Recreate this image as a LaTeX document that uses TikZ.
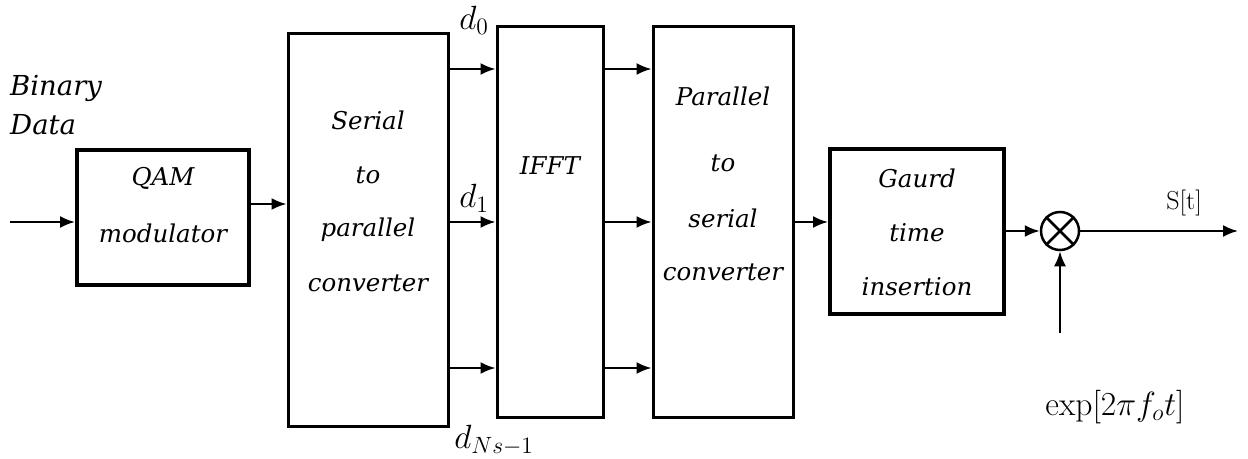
\RequirePackage{fix-cm}
\documentclass[tikz,border=0pt]{standalone}
\usepackage{fontspec}
\usetikzlibrary{arrows.meta}
\newfontfamily\lblfont{DejaVu Serif}
\begin{document}
\begin{tikzpicture}[x=1pt,y=-1pt,
  blk/.style={draw,line width=3pt,minimum width=#1,inner sep=0pt},
  txt/.style={font=\lblfont\itshape\fontsize{24.5}{28}\selectfont,inner sep=0pt},
  mth/.style={font=\fontsize{24}{28}\selectfont,inner sep=0pt,scale=1.4},
  arr/.style={line width=2.2pt,-{Latex[length=15pt,width=12pt]}}]
\useasboundingbox (0,0) rectangle (1248,458);
\fill[white] (0,0) rectangle (1248,458);
% blocks
\node[blk=172pt,minimum height=135pt,line width=4pt] (qam) at (163,217) {};
\node[blk=160pt,minimum height=393pt] (sp) at (368,229.5) {};
\node[blk=106pt,minimum height=391pt] (ifft) at (550,221.5) {};
\node[blk=140pt,minimum height=391pt] (ps) at (723,221.5) {};
\node[blk=174pt,minimum height=165pt,line width=4pt] (gt) at (917,231.5) {};
\node[draw,circle,line width=2.5pt,minimum size=38pt,inner sep=0pt] (mul) at (1060,231) {};
\draw[line width=2.5pt] (mul.north west) -- (mul.south east) (mul.north east) -- (mul.south west);
% texts
\node[txt,anchor=west,font=\lblfont\itshape\fontsize{27.5}{30}\selectfont] (bin) at (10,88) {Binary};
\node[txt,anchor=west,font=\lblfont\itshape\fontsize{27.5}{30}\selectfont] (dat) at (10,125) {Data};
\node[txt] (q1) at (163,178) {QAM};
\node[txt] (q2) at (163,233) {modulator};
\node[txt] (s1) at (368,120) {Serial};
\node[txt] (s2) at (368,175) {to};
\node[txt] (s3) at (368,230) {parallel};
\node[txt] (s4) at (368,283) {converter};
\node[txt] (i1) at (550,166) {IFFT};
\node[txt] (p1) at (723,96) {Parallel};
\node[txt] (p2) at (723,163) {to};
\node[txt] (p3) at (723,218) {serial};
\node[txt] (p4) at (723,272) {converter};
\node[txt] (g1) at (917,178) {Gaurd};
\node[txt] (g2) at (917,233) {time};
\node[txt] (g3) at (917,287) {insertion};
\node[mth] (d0) at (474,20) {$d_0$};
\node[mth] (d1) at (474,198) {$d_1$};
\node[mth] (dn) at (494,440) {$d_{Ns-1}$};
\node[font=\fontsize{26}{30}\selectfont,inner sep=0pt] (st) at (1184,203) {S[t]};
\node[mth] (ex) at (1115,407) {$\exp[2\pi f_o t]$};
% connectors
\coordinate (in) at (10,222);
\coordinate (out) at (1238,231);
\coordinate (lo) at (1060,333);
\draw[arr] (in) -- (qam.west |- in);
\draw[arr] (qam.east |- 0,204) -- (sp.west |- 0,204);
\foreach \y in {69,222,368}{
  \draw[arr] (sp.east |- 0,\y) -- (ifft.west |- 0,\y);
  \draw[arr] (ifft.east |- 0,\y) -- (ps.west |- 0,\y);
}
\draw[arr] (ps.east |- 0,222) -- (gt.west |- 0,222);
\draw[arr] (gt.east |- 0,231) -- (mul.west);
\draw[arr] (mul.east) -- (out);
\draw[arr] (lo) -- (mul.south);
\end{tikzpicture}
\end{document}
